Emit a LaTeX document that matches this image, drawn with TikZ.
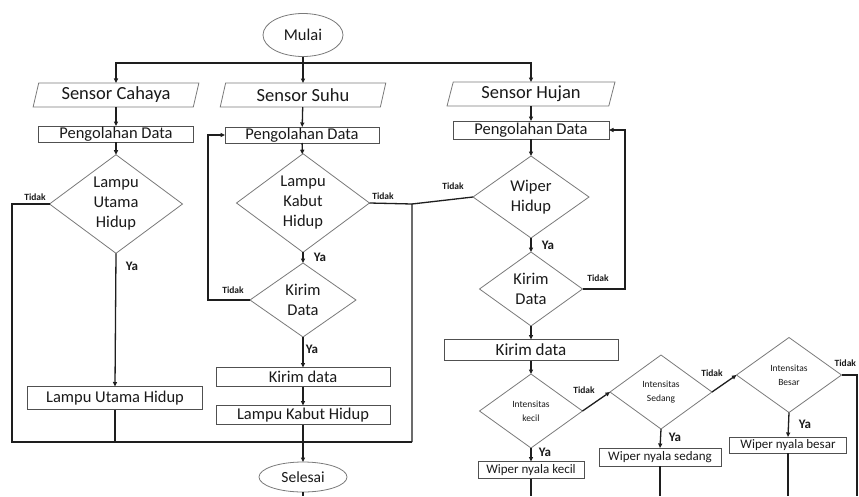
\documentclass[tikz,border=0pt]{standalone}
\usepackage{fontspec}
\setmainfont{Carlito}
\usetikzlibrary{shapes.geometric,arrows.meta}
\definecolor{lin}{HTML}{1E1E1E}
\definecolor{brd}{HTML}{7A7A7A}
\definecolor{rbrd}{HTML}{505050}
\definecolor{txt}{HTML}{1A1A1A}
\begin{document}
\begin{tikzpicture}[x=1pt,y=-1pt,
  base/.style={inner sep=0pt,outer sep=0pt,text=txt,align=center},
  term/.style={base,ellipse,draw=brd,line width=0.8pt},
  io/.style={base,trapezium,trapezium left angle=76,trapezium right angle=104,trapezium stretches=true,draw=brd,line width=0.8pt,font=\fontsize{18.5}{20}\selectfont},
  proc/.style={base,rectangle,draw=rbrd,line width=0.8pt,font=\fontsize{16.5}{18}\selectfont},
  dec/.style={base,diamond,draw=brd,line width=0.8pt,font=\fontsize{16.5}{20}\selectfont},
  smalldec/.style={base,diamond,draw=brd,line width=0.8pt,font=\fontsize{9.5}{14}\selectfont},
  wip/.style={base,rectangle,draw=rbrd,line width=0.8pt,font=\fontsize{13}{14}\selectfont},
  arr/.style={draw=lin,line width=1.3pt,-{Triangle[length=4.5pt,width=4pt]}},
  ln/.style={draw=lin,line width=1.3pt},
  no/.style={base,font=\bfseries\fontsize{9.5}{10}\selectfont},
  yes/.style={base,font=\bfseries\fontsize{13}{14}\selectfont}]
\useasboundingbox (0,0) rectangle (859,496);
\fill[white] (0,0) rectangle (859,496);

% terminals
\node[term,minimum width=80pt,minimum height=43pt,font=\fontsize{16.5}{18}\selectfont] (mulai) at (303,35) {Mulai};
\node[term,minimum width=88pt,minimum height=30pt,font=\fontsize{15.5}{17}\selectfont] (selesai) at (303,477) {Selesai};

% sensors
\node[io,minimum width=166pt,minimum height=24pt] (sc) at (116,95) {Sensor Cahaya};
\node[io,minimum width=167pt,minimum height=24pt] (ss) at (303,95) {Sensor Suhu};
\node[io,minimum width=168pt,minimum height=24pt] (sh) at (531,94) {Sensor Hujan};

% processing
\node[proc,minimum width=155pt,minimum height=16pt] (p1) at (116,134) {Pengolahan Data};
\node[proc,minimum width=154pt,minimum height=16pt] (p2) at (302,135) {Pengolahan Data};
\node[proc,minimum width=156pt,minimum height=18pt] (p3) at (531,130) {Pengolahan Data};

% decisions
\node[dec,minimum width=133pt,minimum height=95pt] (d1) at (116,204) {Lampu\\Utama\\Hidup};
\node[dec,minimum width=133pt,minimum height=92pt] (d2) at (303,203) {Lampu\\Kabut\\Hidup};
\node[dec,minimum width=116pt,minimum height=82pt] (d3) at (531,197) {Wiper\\Hidup};
\node[dec,minimum width=106pt,minimum height=74pt] (k1) at (303,300) {Kirim\\Data};
\node[dec,minimum width=103pt,minimum height=74pt] (k2) at (531,289) {Kirim\\Data};

% boxes
\node[proc,minimum width=175pt,minimum height=23pt] (lu) at (115,398) {Lampu Utama Hidup};
\node[proc,minimum width=174pt,minimum height=19pt] (kd1) at (303,377) {Kirim data};
\node[proc,minimum width=174pt,minimum height=19pt] (lk) at (303,415) {Lampu Kabut Hidup};
\node[proc,minimum width=174pt,minimum height=21pt,font=\fontsize{17}{18}\selectfont] (kd2) at (531,350) {Kirim data};

% intensity
\node[smalldec,minimum width=103pt,minimum height=74pt] (i1) at (531,411) {Intensitas\\kecil};
\node[smalldec,minimum width=102pt,minimum height=74pt] (i2) at (661,392) {Intensitas\\Sedang};
\node[smalldec,minimum width=105pt,minimum height=75pt] (i3) at (789,375) {Intensitas\\Besar};

\node[wip,minimum width=106pt,minimum height=17pt] (w1) at (531,470) {Wiper nyala kecil};
\node[wip,minimum width=122pt,minimum height=18pt] (w2) at (660,457) {Wiper nyala sedang};
\node[wip,minimum width=117pt,minimum height=16pt] (w3) at (788,445) {Wiper nyala besar};

% coordinates
\coordinate (j0) at (303,63);
\coordinate (lft) at (12,204);
\coordinate (rgt) at (412,204);
\coordinate (bl) at (12,442);
\coordinate (br) at (412,442);
\coordinate (lub) at (115,442);
\coordinate (k1l) at (208,300);
\coordinate (k2r) at (625,289);
\coordinate (i3r) at (857,375);
\coordinate (e3) at (857,496);
\coordinate (ew1) at (531,496);
\coordinate (ew2) at (660,496);
\coordinate (ew3) at (788,496);
\coordinate (esl) at (303,496);

% top connectors
\draw[ln] (mulai) -- (j0);
\draw[arr] (j0) -- (ss);
\draw[arr] (j0) -| (sc.north);
\draw[arr] (j0) -| (sh.north);
\draw[arr] (sc) -- (p1);
\draw[arr] (ss) -- (p2);
\draw[arr] (sh) -- (p3);
\draw[arr] (p1) -- (d1);
\draw[arr] (p2) -- (d2);
\draw[arr] (p3) -- (d3);

% left column
\draw[arr] (d1.south) -- (lu.north);
\draw[ln] (d1.west) -- (lft) -- (bl) -- (br);
\draw[ln] (lu.south) -- (lub);

% middle column
\draw[ln] (d2.east) -- (rgt) -- (br);
\draw[ln] (d3.west) -- (rgt);
\draw[arr] (d2.south) -- (k1.north);
\draw[arr] (k1.west) -- (k1l) |- (p2.west);
\draw[arr] (k1.south) -- (kd1.north);
\draw[arr] (kd1) -- (lk);
\draw[arr] (lk.south) -- (selesai.north);
\draw[ln] (selesai.south) -- (esl);

% right column
\draw[arr] (d3.south) -- (k2.north);
\draw[arr] (k2.east) -- (k2r) |- (p3.east);
\draw[arr] (k2.south) -- (kd2.north);
\draw[arr] (kd2) -- (i1);
\draw[arr] (i1.east) -- (i2.west);
\draw[arr] (i2.east) -- (i3.west);
\draw[ln] (i3.east) -- (i3r) -- (e3);
\draw[arr] (i1.south) -- (w1.north);
\draw[arr] (i2.south) -- (w2.north);
\draw[arr] (i3.south) -- (w3.north);
\draw[ln] (w1.south) -- (ew1);
\draw[ln] (w2.south) -- (ew2);
\draw[ln] (w3.south) -- (ew3);

% labels
\node[no] (t1) at (35,197) {Tidak};
\node[no] (t2) at (383,196) {Tidak};
\node[no] (t3) at (453,186) {Tidak};
\node[no] (t4) at (233,290) {Tidak};
\node[no] (t5) at (598,278) {Tidak};
\node[no] (t6) at (584,390) {Tidak};
\node[no] (t7) at (712,373) {Tidak};
\node[no,anchor=east] (t8) at (856,363) {Tidak};
\node[yes] (y1) at (132,266) {Ya};
\node[yes] (y2) at (320,257) {Ya};
\node[yes] (y3) at (548,245) {Ya};
\node[yes] (y4) at (312,349) {Ya};
\node[yes] (y5) at (545,452) {Ya};
\node[yes] (y6) at (675,437) {Ya};
\node[yes] (y7) at (805,424) {Ya};
\end{tikzpicture}
\end{document}
